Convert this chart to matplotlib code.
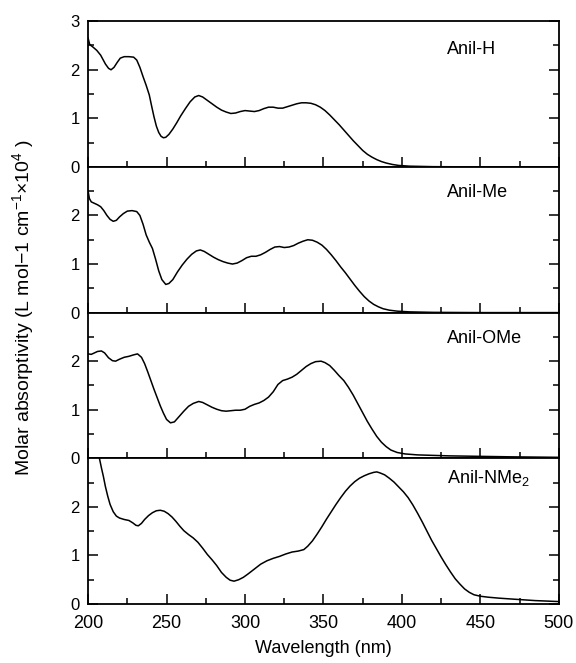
import matplotlib
matplotlib.use("Agg")
import matplotlib.pyplot as plt
from matplotlib.ticker import MultipleLocator, FixedLocator

plt.rcParams["font.family"] = ["Liberation Sans", "DejaVu Sans"]
plt.rcParams["mathtext.fontset"] = "custom"
plt.rcParams["mathtext.rm"] = "Liberation Sans"
plt.rcParams["mathtext.it"] = "Liberation Sans"

# spectra: wavelength (nm) and molar absorptivity (x10^4)
wl_h = [200, 201, 203, 205.5, 208, 211, 213, 214.6, 216.5, 218.5, 220.5, 223, 226, 229,
        231, 233, 235, 237, 239, 240.5, 242, 243.5, 245, 246.5, 248, 249.5, 251.5, 254,
        256.5, 259, 262, 265, 268, 270.5, 273, 276, 279, 282, 285, 288, 291, 294, 297,
        300, 303, 306, 309, 312, 315, 318, 321, 324, 327, 330, 333, 336, 339, 342, 345,
        348, 351, 354, 357, 360, 363, 366, 369, 372, 375, 378, 381, 384, 387, 390, 394,
        398, 405, 420, 450, 500]
ab_h = [2.65, 2.52, 2.47, 2.4, 2.3, 2.12, 2.03, 2.0, 2.05, 2.15, 2.24, 2.27, 2.27, 2.26,
        2.2, 2.05, 1.86, 1.68, 1.48, 1.25, 1.03, 0.84, 0.71, 0.63, 0.6, 0.61, 0.67, 0.78,
        0.91, 1.05, 1.2, 1.34, 1.44, 1.47, 1.44, 1.37, 1.3, 1.23, 1.17, 1.13, 1.1, 1.11,
        1.14, 1.16, 1.15, 1.14, 1.16, 1.2, 1.23, 1.23, 1.21, 1.21, 1.24, 1.27, 1.3, 1.32,
        1.32, 1.31, 1.28, 1.23, 1.16, 1.07, 0.97, 0.87, 0.76, 0.65, 0.54, 0.44, 0.34,
        0.26, 0.2, 0.15, 0.11, 0.08, 0.05, 0.03, 0.015, 0.005, 0.0, 0.0]

wl_me = [200, 200.8, 202, 204, 206, 208, 210, 212, 214, 216, 218, 220, 222.5, 225, 228,
         231, 233, 235, 237, 239, 241, 243, 245, 247, 249.5, 251.5, 254, 257, 260, 263,
         266, 269, 271.5, 274, 277, 280, 283, 286, 289, 292, 295, 298, 301, 304, 307,
         310, 313, 316, 319, 322, 325, 328, 331, 334, 337, 340, 343, 346, 349, 352, 355,
         358, 361, 364, 367, 370, 373, 376, 379, 382, 385, 388, 392, 397, 405, 420, 450,
         500]
ab_me = [2.5, 2.35, 2.28, 2.25, 2.22, 2.18, 2.1, 2.0, 1.92, 1.88, 1.9, 1.97, 2.04, 2.09,
         2.1, 2.08, 2.0, 1.82, 1.6, 1.45, 1.32, 1.1, 0.86, 0.68, 0.58, 0.6, 0.68, 0.84,
         0.98, 1.1, 1.2, 1.27, 1.29, 1.26, 1.2, 1.14, 1.09, 1.05, 1.02, 1.0, 1.02, 1.07,
         1.13, 1.16, 1.16, 1.19, 1.24, 1.3, 1.35, 1.36, 1.34, 1.35, 1.38, 1.43, 1.47, 1.5,
         1.49, 1.45, 1.39, 1.3, 1.19, 1.07, 0.94, 0.82, 0.69, 0.56, 0.44, 0.33, 0.24,
         0.17, 0.12, 0.08, 0.05, 0.03, 0.015, 0.005, 0.0, 0.0]

wl_ome = [200, 202, 204, 206, 208.5, 210.5, 213, 215.5, 217.5, 220, 223, 226, 229,
          231.5, 234, 236, 238, 240, 242, 244, 246, 248, 250, 252.5, 255, 258, 261, 264,
          267, 270.5, 273, 276, 279, 282, 285, 288, 291, 294, 297, 300, 303, 306, 309,
          312, 315, 318, 321, 324, 327, 330, 333, 336, 339, 342, 345, 348.5, 351, 354,
          357, 360, 363, 366, 369, 372, 375, 378, 381, 384, 387, 390, 393, 397, 402, 410,
          430, 470, 500]
ab_ome = [2.15, 2.14, 2.17, 2.2, 2.21, 2.17, 2.07, 2.01, 2.0, 2.04, 2.08, 2.1, 2.13,
          2.15, 2.08, 1.95, 1.78, 1.6, 1.42, 1.25, 1.08, 0.93, 0.8, 0.73, 0.75, 0.86,
          0.97, 1.07, 1.13, 1.17, 1.15, 1.1, 1.05, 1.01, 0.98, 0.97, 0.98, 0.99, 0.99,
          1.01, 1.07, 1.11, 1.14, 1.19, 1.26, 1.37, 1.52, 1.6, 1.63, 1.67, 1.73, 1.81,
          1.89, 1.95, 1.99, 2.0, 1.97, 1.91, 1.81, 1.7, 1.6, 1.46, 1.3, 1.12, 0.94, 0.76,
          0.6, 0.45, 0.33, 0.24, 0.17, 0.12, 0.09, 0.07, 0.05, 0.03, 0.02]

wl_nme = [207.2, 208.5, 209.7, 211, 212.5, 214, 216, 218, 220, 223, 226, 228.5, 230.5,
          232, 234, 236, 238.5, 241, 243.5, 246, 248.5, 251, 253.5, 256, 258.5, 261, 264,
          267, 270, 273, 276, 279, 282, 285, 288, 290.5, 293, 296, 299, 302, 306, 310,
          314, 318, 322, 326, 330, 334, 337.5, 340, 343, 346, 349, 352, 355, 358, 361,
          364, 367, 370, 373, 376, 379, 382, 384, 386, 389, 392, 395, 398, 401, 404, 407,
          410, 413, 416, 419, 422, 425, 428, 431, 434, 437, 440, 443, 446, 450, 455, 462,
          471, 485, 500]
ab_nme = [3.0, 2.8, 2.63, 2.42, 2.22, 2.05, 1.9, 1.81, 1.77, 1.74, 1.72, 1.67, 1.62,
          1.61, 1.66, 1.74, 1.82, 1.88, 1.92, 1.93, 1.91, 1.86, 1.79, 1.7, 1.6, 1.51,
          1.43, 1.36, 1.27, 1.15, 1.02, 0.91, 0.79, 0.65, 0.55, 0.49, 0.47, 0.5, 0.55,
          0.62, 0.72, 0.82, 0.89, 0.94, 0.98, 1.03, 1.07, 1.09, 1.12, 1.19, 1.3, 1.44,
          1.59, 1.75, 1.9, 2.05, 2.19, 2.32, 2.43, 2.52, 2.59, 2.64, 2.68, 2.71, 2.72,
          2.7, 2.66, 2.59, 2.51, 2.41, 2.31, 2.19, 2.04, 1.87, 1.69, 1.5, 1.31, 1.14,
          0.97, 0.81, 0.66, 0.52, 0.41, 0.31, 0.24, 0.19, 0.16, 0.14, 0.12, 0.1, 0.07,
          0.05]

series = [(wl_h, ab_h), (wl_me, ab_me), (wl_ome, ab_ome), (wl_nme, ab_nme)]
labels = ["Anil-H", "Anil-Me", "Anil-OMe", r"Anil-NMe$_2$"]
label_y = [2.42, 2.47, 2.47, 2.6]

fig, axes = plt.subplots(4, 1, figsize=(5.76, 6.63), dpi=100, sharex=True)
fig.subplots_adjust(left=0.153, right=0.970, top=0.968, bottom=0.089, hspace=0)

for i, (ax, (wl, ab), lab, ly) in enumerate(zip(axes, series, labels, label_y)):
    ax.plot(wl, ab, color="black", lw=1.1, solid_joinstyle="round")
    ax.set_xlim(200, 500)
    ax.set_ylim(0, 3)
    ax.yaxis.set_major_locator(FixedLocator([0, 1, 2, 3] if i == 0 else [0, 1, 2]))
    ax.yaxis.set_minor_locator(FixedLocator([0.5, 1.5, 2.5]))
    ax.xaxis.set_major_locator(MultipleLocator(50))
    ax.xaxis.set_minor_locator(MultipleLocator(25))
    ax.tick_params(which="both", direction="in", top=False, right=True, width=1.1)
    ax.tick_params(which="major", length=7)
    ax.tick_params(which="minor", length=4)
    ax.tick_params(axis="y", labelsize=12, pad=6)
    ax.tick_params(axis="x", labelsize=13, pad=8)
    for sp in ax.spines.values():
        sp.set_linewidth(1.3)
    ax.text(429, ly, lab, fontsize=13, ha="left", va="center")

axes[-1].set_xlabel("Wavelength (nm)", fontsize=13, labelpad=6)
fig.text(0.040, 0.535,
         r"Molar absorptivity (L mol$-$1 cm$^{-1}$$\times$10$^{4}$ )",
         rotation=90, fontsize=14, ha="center", va="center")

fig.savefig("out.png", dpi=100)
